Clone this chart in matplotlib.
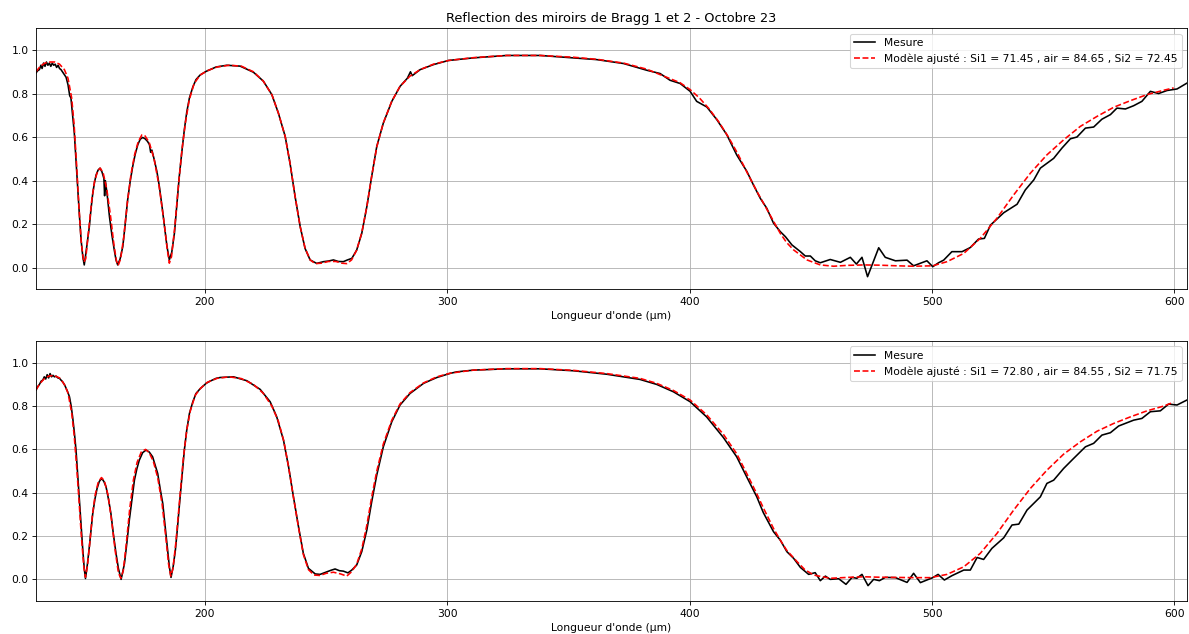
import matplotlib
matplotlib.use("Agg")
import matplotlib.pyplot as plt

# ---------------- data ----------------
title = "Reflection des miroirs de Bragg 1 et 2 - Octobre 23"
xlabel = "Longueur d'onde (µm)"
label_meas = "Mesure"
label_model_top = "Modèle ajusté : Si1 = 71.45 , air = 84.65 , Si2 = 72.45"
label_model_bot = "Modèle ajusté : Si1 = 72.80 , air = 84.55 , Si2 = 71.75"

wl_meas_top = [130.3, 131.0, 131.7, 132.3, 132.8, 133.4, 134.0, 134.6, 135.2, 135.8,
               136.4, 137.0, 137.6, 138.2, 138.8, 139.4, 140.0, 140.6, 141.2, 141.8,
               142.7, 143.5, 144.2, 144.7, 145.4, 146.1, 146.8, 147.5, 148.2, 148.9,
               149.6, 150.2, 150.8, 151.5, 152.3, 153.0, 153.7, 154.4, 155.1, 155.9,
               156.7, 157.5, 158.3, 158.6, 158.9, 159.7, 160.6, 161.6, 162.6, 163.3,
               164.0, 165.0, 166.1, 167.1, 168.1, 169.2, 170.2, 171.2, 172.3, 173.3,
               174.3, 175.3, 176.3, 177.1, 177.6, 178.1, 179.1, 180.2, 181.2, 182.3,
               183.3, 184.3, 185.3, 186.3, 187.4, 188.4, 189.4, 190.5, 191.5, 192.5,
               193.6, 195.0, 196.3, 198.0, 200.5, 202.1, 204.6, 209.0, 214.5, 220.0,
               224.1, 227.6, 230.3, 233.1, 235.1, 237.2, 239.3, 241.3, 243.4, 246.1,
               248.9, 251.0, 253.0, 255.0, 257.1, 258.8, 260.6, 262.6, 264.7, 266.8,
               268.8, 270.9, 273.6, 277.1, 280.5, 283.5, 284.8, 285.5, 288.8, 294.3,
               300.5, 310.8, 324.5, 338.3, 352.0, 361.6, 372.7, 382.3, 387.8, 391.9,
               396.1, 400.2, 402.9, 407.1, 411.2, 415.3, 419.4, 423.6, 426.3, 429.1,
               431.8, 434.6, 437.4, 439.5, 442.2, 445.7, 447.7, 449.8, 451.8, 453.9,
               458.0, 462.2, 466.3, 468.8, 471.1, 473.4, 478.0, 480.7, 484.9, 489.7,
               492.4, 497.9, 500.3, 502.7, 504.8, 508.2, 512.4, 515.8, 519.2, 521.6,
               524.1, 529.6, 535.1, 538.5, 542.0, 544.7, 550.2, 553.6, 557.1, 559.8,
               563.3, 566.7, 570.1, 573.6, 576.3, 579.8, 583.2, 586.6, 590.1, 593.5,
               597.0, 601.1, 605.2]
r_meas_top = [0.895, 0.905, 0.910, 0.930, 0.915, 0.940, 0.925, 0.945, 0.930, 0.940,
              0.925, 0.940, 0.930, 0.935, 0.920, 0.930, 0.915, 0.910, 0.900, 0.890,
              0.875, 0.840, 0.790, 0.780, 0.700, 0.618, 0.490, 0.357, 0.240, 0.127,
              0.050, 0.012, 0.060, 0.120, 0.188, 0.270, 0.340, 0.390, 0.426, 0.448,
              0.457, 0.440, 0.410, 0.330, 0.400, 0.330, 0.234, 0.150, 0.080, 0.035,
              0.012, 0.040, 0.096, 0.200, 0.311, 0.400, 0.465, 0.520, 0.565, 0.590,
              0.598, 0.592, 0.580, 0.565, 0.530, 0.540, 0.495, 0.440, 0.372, 0.280,
              0.188, 0.100, 0.035, 0.070, 0.157, 0.290, 0.418, 0.535, 0.634, 0.715,
              0.780, 0.830, 0.864, 0.885, 0.902, 0.910, 0.922, 0.930, 0.926, 0.898,
              0.857, 0.795, 0.710, 0.603, 0.480, 0.326, 0.188, 0.088, 0.035, 0.019,
              0.027, 0.030, 0.035, 0.028, 0.027, 0.035, 0.042, 0.080, 0.157, 0.280,
              0.419, 0.557, 0.664, 0.764, 0.833, 0.870, 0.900, 0.882, 0.910, 0.933,
              0.952, 0.964, 0.975, 0.975, 0.964, 0.956, 0.938, 0.907, 0.892, 0.861,
              0.846, 0.810, 0.764, 0.738, 0.680, 0.611, 0.518, 0.442, 0.380, 0.319,
              0.273, 0.204, 0.165, 0.142, 0.104, 0.073, 0.053, 0.053, 0.031, 0.022,
              0.037, 0.024, 0.047, 0.016, 0.047, -0.042, 0.091, 0.047, 0.031, 0.034,
              0.008, 0.031, 0.004, 0.022, 0.034, 0.073, 0.073, 0.092, 0.131, 0.134,
              0.195, 0.252, 0.291, 0.357, 0.403, 0.457, 0.502, 0.549, 0.592, 0.600,
              0.641, 0.646, 0.682, 0.703, 0.733, 0.729, 0.744, 0.764, 0.810, 0.800,
              0.814, 0.821, 0.848]

wl_model_top = [130.3, 132.0, 134.0, 136.0, 138.0, 140.0, 142.0, 143.5, 145.0, 146.0,
                147.0, 148.0, 149.0, 150.0, 150.8, 152.0, 153.3, 154.5, 155.8, 156.8,
                158.0, 159.5, 161.0, 162.5, 163.5, 164.2, 165.2, 166.5, 168.0, 169.5,
                171.0, 172.5, 174.0, 175.3, 177.0, 179.0, 181.0, 183.0, 184.5, 185.3,
                186.2, 187.5, 189.0, 190.5, 192.0, 193.5, 195.5, 198.0, 201.0, 205.0,
                210.0, 215.0, 220.0, 224.0, 227.6, 230.3, 233.1, 235.1, 237.2, 239.3,
                241.3, 243.4, 245.5, 248.0, 251.0, 254.0, 256.5, 258.5, 260.5, 262.6,
                264.7, 266.8, 268.8, 270.9, 273.6, 277.1, 280.5, 284.6, 288.8, 294.3,
                300.5, 310.8, 324.5, 338.3, 352.0, 362.0, 372.7, 382.3, 390.0, 396.0,
                400.2, 404.0, 408.0, 412.0, 416.0, 420.0, 424.0, 428.0, 432.0, 435.0,
                437.4, 440.0, 442.9, 448.4, 453.9, 459.4, 465.0, 471.8, 478.0, 485.5,
                492.4, 500.3, 506.2, 513.1, 519.9, 526.8, 533.7, 540.6, 547.4, 554.3,
                561.2, 568.1, 575.0, 581.8, 588.7, 595.6, 599.7]
r_model_top = [0.900, 0.925, 0.940, 0.945, 0.945, 0.935, 0.910, 0.870, 0.780, 0.660,
               0.480, 0.280, 0.110, 0.025, 0.040, 0.170, 0.310, 0.400, 0.445, 0.457,
               0.435, 0.360, 0.240, 0.100, 0.030, 0.010, 0.040, 0.140, 0.300, 0.430,
               0.520, 0.580, 0.610, 0.605, 0.575, 0.500, 0.380, 0.220, 0.080, 0.020,
               0.050, 0.180, 0.370, 0.540, 0.670, 0.770, 0.845, 0.885, 0.905, 0.922,
               0.930, 0.926, 0.900, 0.858, 0.795, 0.710, 0.603, 0.480, 0.326, 0.188,
               0.090, 0.035, 0.018, 0.020, 0.028, 0.028, 0.020, 0.018, 0.035, 0.080,
               0.160, 0.280, 0.420, 0.555, 0.665, 0.765, 0.833, 0.880, 0.910, 0.935,
               0.952, 0.965, 0.975, 0.975, 0.967, 0.957, 0.940, 0.912, 0.877, 0.850,
               0.818, 0.780, 0.730, 0.670, 0.600, 0.520, 0.430, 0.345, 0.265, 0.205,
               0.157, 0.115, 0.081, 0.035, 0.012, 0.006, 0.010, 0.012, 0.011, 0.008,
               0.006, 0.008, 0.027, 0.065, 0.134, 0.227, 0.334, 0.434, 0.518, 0.587,
               0.649, 0.695, 0.737, 0.767, 0.795, 0.815, 0.826]

wl_meas_bot = [130.3, 131.0, 131.7, 132.4, 133.1, 133.7, 134.3, 134.9, 135.5, 136.1,
               136.7, 137.3, 137.9, 138.6, 139.3, 140.0, 140.6, 141.3, 142.2, 143.2,
               144.1, 144.8, 145.4, 146.1, 146.8, 147.5, 148.2, 148.9, 149.6, 150.2,
               150.7, 151.5, 152.3, 153.0, 153.7, 154.6, 155.5, 156.4, 157.4, 158.3,
               159.2, 160.2, 161.2, 162.2, 163.3, 164.3, 165.4, 166.0, 166.8, 167.8,
               168.8, 169.9, 170.9, 171.9, 172.9, 174.3, 175.7, 177.0, 178.4, 179.4,
               180.5, 181.5, 182.6, 183.6, 184.6, 185.3, 186.0, 186.9, 187.8, 188.6,
               189.4, 190.5, 191.5, 192.5, 193.6, 195.0, 196.3, 198.0, 200.5, 202.1,
               204.6, 206.3, 211.8, 217.3, 222.8, 226.9, 229.6, 232.4, 234.5, 236.5,
               238.6, 240.6, 242.7, 245.5, 247.5, 250.3, 252.0, 253.7, 255.5, 257.1,
               259.0, 260.6, 262.6, 264.7, 266.8, 268.8, 270.9, 273.6, 277.1, 280.5,
               284.6, 290.2, 295.7, 301.2, 303.9, 310.8, 324.5, 338.3, 352.0, 365.8,
               379.5, 386.4, 393.3, 400.2, 407.0, 413.9, 419.4, 423.5, 427.7, 430.4,
               434.6, 437.4, 440.1, 442.9, 445.7, 449.1, 451.8, 453.9, 456.0, 458.0,
               461.5, 464.5, 467.0, 469.0, 471.1, 473.6, 475.9, 478.3, 480.7, 484.9,
               489.7, 492.4, 495.2, 500.3, 502.5, 505.1, 508.2, 513.1, 515.8, 518.6,
               521.3, 524.7, 529.6, 533.0, 535.8, 539.2, 544.7, 547.4, 550.2, 554.3,
               558.4, 563.3, 566.7, 570.1, 573.6, 577.0, 583.2, 586.6, 590.1, 594.2,
               597.6, 601.1, 605.2]
r_meas_bot = [0.874, 0.890, 0.900, 0.915, 0.920, 0.935, 0.925, 0.945, 0.930, 0.950,
              0.935, 0.942, 0.935, 0.938, 0.930, 0.928, 0.920, 0.912, 0.895, 0.870,
              0.843, 0.800, 0.750, 0.680, 0.597, 0.480, 0.366, 0.250, 0.135, 0.050,
              0.004, 0.070, 0.151, 0.230, 0.304, 0.370, 0.420, 0.452, 0.466, 0.452,
              0.427, 0.370, 0.304, 0.210, 0.120, 0.050, 0.000, 0.030, 0.074, 0.170,
              0.274, 0.370, 0.458, 0.510, 0.550, 0.585, 0.597, 0.588, 0.566, 0.530,
              0.489, 0.420, 0.350, 0.240, 0.135, 0.060, 0.009, 0.060, 0.135, 0.230,
              0.335, 0.470, 0.597, 0.690, 0.766, 0.820, 0.858, 0.880, 0.905, 0.915,
              0.928, 0.932, 0.935, 0.917, 0.877, 0.820, 0.751, 0.643, 0.520, 0.382,
              0.243, 0.120, 0.051, 0.025, 0.023, 0.035, 0.042, 0.048, 0.040, 0.038,
              0.030, 0.043, 0.066, 0.128, 0.228, 0.358, 0.482, 0.612, 0.728, 0.805,
              0.858, 0.905, 0.932, 0.951, 0.958, 0.966, 0.972, 0.972, 0.963, 0.947,
              0.923, 0.900, 0.866, 0.820, 0.750, 0.655, 0.566, 0.474, 0.381, 0.308,
              0.220, 0.181, 0.128, 0.097, 0.055, 0.023, 0.031, -0.006, 0.015, 0.000,
              0.003, -0.023, 0.009, 0.005, 0.023, -0.029, 0.000, -0.006, 0.009, 0.008,
              -0.014, 0.028, -0.015, 0.008, 0.023, -0.003, 0.017, 0.043, 0.043, 0.101,
              0.092, 0.143, 0.192, 0.251, 0.255, 0.320, 0.381, 0.443, 0.458, 0.512,
              0.558, 0.612, 0.628, 0.666, 0.677, 0.708, 0.735, 0.743, 0.774, 0.778,
              0.809, 0.805, 0.828]

wl_model_bot = [130.3, 132.0, 134.0, 136.0, 138.0, 140.0, 142.0, 143.5, 145.0, 146.0,
                147.0, 148.0, 149.0, 150.0, 150.7, 151.5, 152.5, 153.5, 154.7, 156.0,
                157.3, 158.5, 160.0, 161.5, 163.0, 164.3, 165.3, 166.3, 167.5, 169.0,
                170.5, 172.0, 173.8, 175.5, 177.0, 178.7, 180.5, 182.3, 183.8, 185.0,
                185.9, 186.8, 188.0, 189.5, 191.0, 192.5, 194.0, 196.0, 198.0, 201.0,
                205.0, 210.0, 215.0, 220.0, 224.0, 227.6, 230.3, 232.5, 234.5, 236.5,
                238.6, 240.6, 242.7, 245.0, 247.5, 250.0, 253.0, 256.0, 258.5, 260.5,
                262.6, 264.7, 266.8, 268.8, 270.9, 273.6, 277.1, 280.5, 284.6, 290.2,
                295.7, 301.2, 310.8, 324.5, 338.3, 352.0, 365.8, 379.5, 386.4, 393.3,
                400.2, 407.0, 413.9, 419.4, 423.5, 427.7, 430.4, 434.6, 437.4, 440.0,
                444.3, 447.5, 451.2, 458.0, 465.0, 471.8, 478.0, 485.5, 492.0, 499.3,
                506.2, 513.1, 519.9, 526.8, 533.7, 540.6, 547.4, 554.3, 561.2, 568.1,
                575.0, 581.8, 588.7, 595.6, 599.7]
r_model_bot = [0.875, 0.905, 0.930, 0.940, 0.940, 0.930, 0.900, 0.860, 0.770, 0.670,
               0.530, 0.370, 0.200, 0.060, 0.010, 0.060, 0.170, 0.290, 0.390, 0.450,
               0.470, 0.455, 0.390, 0.270, 0.130, 0.030, 0.005, 0.040, 0.160, 0.330,
               0.460, 0.540, 0.590, 0.600, 0.585, 0.545, 0.470, 0.350, 0.200, 0.070,
               0.015, 0.050, 0.170, 0.360, 0.550, 0.690, 0.780, 0.850, 0.880, 0.910,
               0.928, 0.935, 0.927, 0.900, 0.860, 0.800, 0.730, 0.640, 0.520, 0.380,
               0.240, 0.115, 0.045, 0.020, 0.018, 0.028, 0.033, 0.025, 0.015, 0.035,
               0.070, 0.140, 0.250, 0.380, 0.500, 0.625, 0.735, 0.810, 0.862, 0.907,
               0.935, 0.952, 0.966, 0.973, 0.973, 0.965, 0.950, 0.928, 0.905, 0.872,
               0.828, 0.760, 0.670, 0.580, 0.490, 0.395, 0.330, 0.235, 0.181, 0.135,
               0.082, 0.045, 0.020, 0.005, 0.009, 0.012, 0.010, 0.009, 0.008, 0.008,
               0.023, 0.058, 0.120, 0.212, 0.320, 0.420, 0.504, 0.578, 0.635, 0.684,
               0.720, 0.750, 0.778, 0.800, 0.818]

x_limits = (130.3, 605.2)
y_limits = (-0.1, 1.1)

# ---------------- figure ----------------
DPI = 77
fig = plt.figure(figsize=(1189 / DPI, 634 / DPI), dpi=DPI)
ax1 = fig.add_axes([0.0303, 0.5437, 0.968, 0.4117])
ax2 = fig.add_axes([0.0303, 0.0520, 0.968, 0.4100])

panels = [
    (ax1, wl_meas_top, r_meas_top, wl_model_top, r_model_top, label_model_top),
    (ax2, wl_meas_bot, r_meas_bot, wl_model_bot, r_model_bot, label_model_bot),
]
for ax, wm, rm, wf, rf, lab in panels:
    ax.plot(wm, rm, color="black", lw=1.5, label=label_meas)
    ax.plot(wf, rf, color="red", ls="--", lw=1.5, label=lab)
    ax.set_xlim(*x_limits)
    ax.set_ylim(*y_limits)
    ax.grid(True)
    ax.set_xlabel(xlabel)
    ax.legend(loc="upper right")

ax1.set_title(title)

fig.savefig("out.png", dpi=DPI)
